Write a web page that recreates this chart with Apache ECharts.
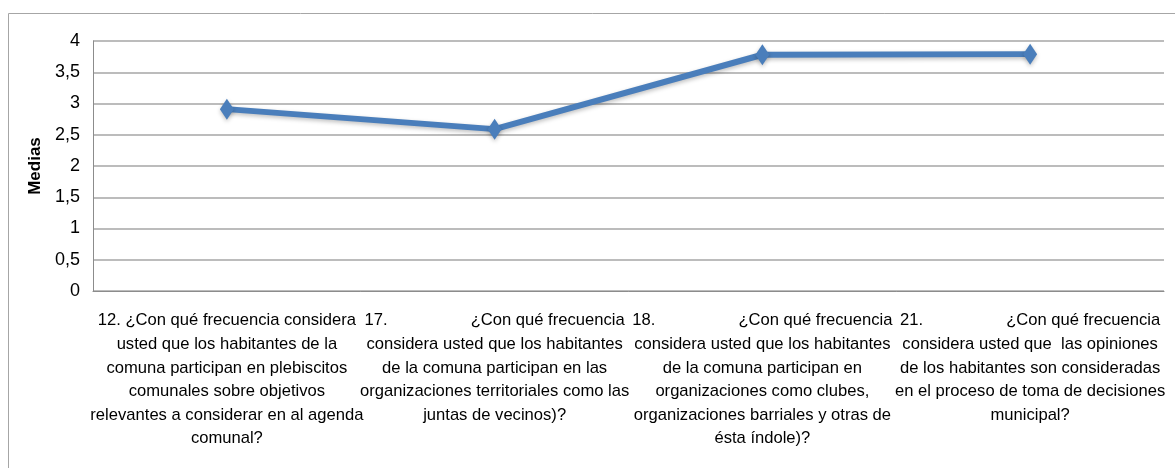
<!DOCTYPE html>
<html>
<head>
<meta charset="utf-8">
<script src="https://cdn.jsdelivr.net/npm/echarts@6/dist/echarts.min.js"></script>
<style>
  html, body { margin: 0; padding: 0; background: #fff; }
  #main { width: 1175px; height: 468px; }
</style>
</head>
<body>
<div id="main"></div>
<script>
// preguntas (eje x)
var preguntas = [
  '12. ¿Con qué frecuencia considera\nusted que los habitantes de la\ncomuna participan en plebiscitos\ncomunales sobre objetivos\nrelevantes a considerar en al agenda\ncomunal?',
  '17.                  ¿Con qué frecuencia\nconsidera usted que los habitantes\nde la comuna participan en las\norganizaciones territoriales como las\njuntas de vecinos)?',
  '18.                  ¿Con qué frecuencia\nconsidera usted que los habitantes\nde la comuna participan en\norganizaciones como clubes,\norganizaciones barriales y otras de\nésta índole)?',
  '21.                  ¿Con qué frecuencia\nconsidera usted que  las opiniones\nde los habitantes son consideradas\nen el proceso de toma de decisiones\nmunicipal?'
];
var medias = [2.91, 2.59, 3.78, 3.79];
var ticksY = [0, 0.5, 1, 1.5, 2, 2.5, 3, 3.5, 4];

var fuente = '"Liberation Sans Narrow", "Liberation Sans", Arial, sans-serif';

var myChart = echarts.init(document.getElementById('main'));
myChart.setOption({
    animation: false,
    backgroundColor: '#fff',
    grid: { left: 93, right: 11, top: 41, bottom: 177 },
    graphic: [{
        type: 'rect',
        shape: { x: 8.5, y: 13.5, width: 1200, height: 500 },
        style: { fill: 'none', stroke: '#a6a6a6', lineWidth: 1 },
        silent: true
    }],
    xAxis: {
        type: 'category',
        data: preguntas,
        boundaryGap: true,
        axisTick: { show: false },
        axisLine: { lineStyle: { color: '#8c8c8c', width: 1 } },
        axisLabel: {
            interval: 0,
            margin: 18,
            color: '#000',
            fontFamily: fuente,
            fontSize: 16.6,
            lineHeight: 23.6,
            align: 'center'
        }
    },
    yAxis: {
        type: 'value',
        min: ticksY[0],
        max: ticksY[ticksY.length - 1],
        interval: 0.5,
        name: 'Medias',
        nameLocation: 'middle',
        nameGap: 43,
        nameRotate: 90,
        nameTextStyle: { fontFamily: 'Liberation Sans, Arial, sans-serif', fontWeight: 'bold', fontSize: 17, color: '#000' },
        axisLine: { show: true, lineStyle: { color: '#8c8c8c', width: 1 } },
        axisTick: { show: false },
        splitLine: { lineStyle: { color: '#a6a6a6', width: 1.5 } },
        axisLabel: {
            color: '#000',
            fontFamily: fuente,
            fontSize: 18,
            margin: 13,
            formatter: function (v) { return String(v).replace('.', ','); }
        }
    },
    series: [{
        type: 'line',
        data: medias,
        symbol: 'diamond',
        symbolSize: [14, 21],
        lineStyle: {
            color: '#4a7ebb', width: 6,
            shadowColor: 'rgba(0,0,0,0.25)', shadowBlur: 4, shadowOffsetY: 2
        },
        itemStyle: {
            color: '#4a7ebb',
            shadowColor: 'rgba(0,0,0,0.25)', shadowBlur: 4, shadowOffsetY: 2
        }
    }]
});
</script>
</body>
</html>
